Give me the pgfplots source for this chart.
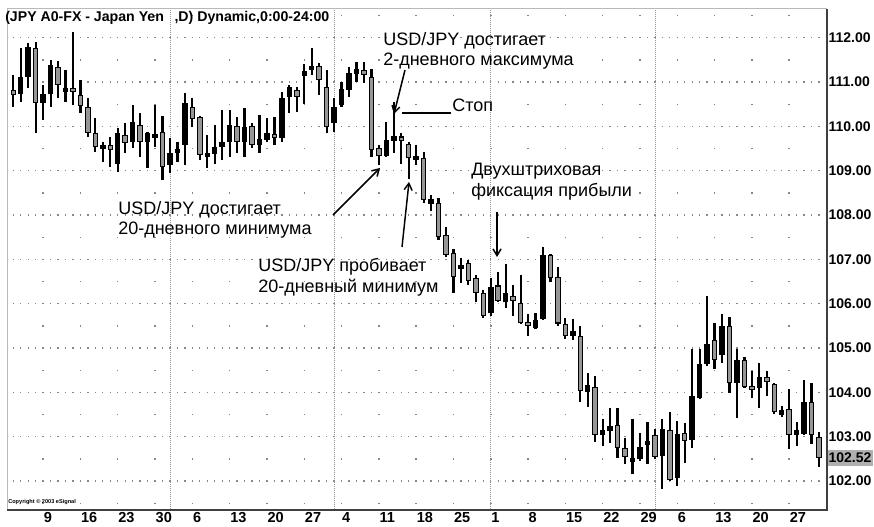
\documentclass[border=0pt]{standalone}
\usepackage{pgfplots}
\pgfplotsset{compat=1.18}
\usepackage{pgfplotstable}
\usepackage{fontspec}
\setmainfont{Liberation Sans}
\usetikzlibrary{arrows.meta}
\definecolor{bodygray}{RGB}{150,150,150}
\definecolor{griddot}{RGB}{135,135,135}

\pgfplotstableread{
i O H L C
1 110.82 111.15 110.43 110.70
2 110.73 111.76 110.55 111.11
3 111.11 111.87 110.86 111.79
4 111.76 111.90 109.84 110.52
5 110.52 110.93 110.14 110.72
6 110.73 111.49 110.43 111.38
7 111.33 111.47 110.63 110.93
8 110.80 111.27 110.55 110.84
9 110.86 112.12 110.47 110.76
10 110.70 111.04 110.29 110.45
11 110.43 110.63 109.75 109.84
12 109.84 110.18 109.41 109.53
13 109.50 109.64 109.19 109.57
14 109.57 109.75 109.08 109.46
15 109.16 109.95 108.96 109.84
16 109.80 110.07 109.39 109.62
17 109.64 110.47 109.50 110.09
18 110.02 110.29 109.30 109.64
19 109.65 109.86 109.05 109.84
20 109.77 110.48 109.53 109.80
21 109.86 110.23 108.78 109.07
22 109.12 109.73 108.94 109.39
23 109.39 109.64 109.19 109.48
24 109.57 110.75 109.12 110.52
25 110.43 110.64 109.98 110.16
26 110.20 110.23 109.23 109.35
27 109.33 109.80 109.05 109.37
28 109.37 110.02 109.16 109.53
29 109.53 110.36 109.23 109.64
30 109.64 110.36 109.30 110.02
31 110.00 110.20 109.39 109.64
32 109.64 110.41 109.30 109.98
33 110.00 110.07 109.50 109.57
34 109.57 110.25 109.39 109.71
35 109.68 110.18 109.64 109.84
36 109.80 110.20 109.57 109.75
37 109.73 110.77 109.64 110.63
38 110.66 110.93 110.29 110.88
39 110.82 110.88 110.32 110.66
40 111.15 111.41 110.51 111.22
41 111.28 111.76 111.15 111.34
42 111.35 111.42 110.70 111.04
43 110.88 111.27 109.84 109.98
44 110.07 110.63 109.86 110.43
45 110.48 111.00 110.43 110.84
46 110.82 111.34 110.66 111.20
47 111.22 111.45 111.00 111.25
48 111.22 111.45 110.98 111.20
49 111.11 111.29 109.30 109.46
50 109.50 109.57 109.12 109.32
51 109.32 110.09 109.30 109.68
52 109.66 110.55 109.39 109.77
53 109.77 109.84 109.16 109.66
54 109.61 109.64 108.82 109.28
55 109.25 109.57 109.12 109.32
56 109.28 109.41 108.26 108.33
57 108.28 108.44 108.10 108.33
58 108.26 108.37 107.43 107.50
59 107.54 107.72 107.05 107.09
60 107.15 107.24 106.23 106.59
61 106.78 107.02 106.46 106.86
62 106.91 106.98 106.41 106.52
63 106.57 106.64 106.03 106.23
64 106.23 106.30 105.68 105.73
65 105.78 106.57 105.73 106.37
66 106.41 106.71 106.03 106.05
67 106.03 106.89 105.91 106.23
68 106.18 106.41 105.73 106.05
69 106.02 106.64 105.55 105.57
70 105.57 105.77 105.28 105.50
71 105.45 105.80 105.43 105.64
72 105.66 107.27 105.64 107.09
73 107.09 107.13 106.48 106.57
74 106.59 106.82 105.50 105.55
75 105.55 105.68 105.21 105.28
76 105.30 105.66 105.17 105.35
77 105.28 105.50 103.78 104.04
78 104.00 104.43 103.66 104.16
79 104.13 104.36 102.88 103.03
80 103.07 103.40 102.79 103.12
81 103.12 103.65 102.86 103.25
82 103.27 103.65 102.52 102.75
83 102.75 102.98 102.39 102.55
84 102.43 103.40 102.16 102.52
85 102.50 103.09 102.45 102.77
86 102.84 103.32 102.39 102.88
87 103.04 103.18 102.50 102.55
88 102.57 103.40 101.82 103.18
89 103.15 103.56 102.00 102.02
90 102.07 103.36 101.89 103.07
91 103.09 103.31 102.41 102.91
92 102.93 104.98 102.75 103.91
93 103.88 104.98 103.86 104.63
94 104.63 106.18 104.60 105.10
95 105.18 105.57 104.53 104.72
96 104.84 105.77 104.65 105.50
97 105.50 105.70 103.99 104.20
98 104.22 104.98 103.43 104.72
99 104.74 104.79 104.09 104.13
100 104.13 104.48 103.88 104.07
101 104.09 104.66 103.65 104.34
102 104.34 104.48 103.92 104.24
103 104.18 104.22 103.52 103.55
104 103.50 103.70 103.45 103.60
105 103.63 104.07 102.72 103.03
106 103.07 103.32 102.79 103.11
107 103.07 104.27 103.04 103.79
108 103.79 104.20 102.84 103.04
109 103.00 103.11 102.32 102.52
}\candles

\begin{document}
\begin{tikzpicture}
\useasboundingbox (0,0) rectangle (655.5pt,395.25pt);
\begin{axis}[
  at={(5.25pt,12.75pt)}, anchor=south west,
  scale only axis, width=615pt, height=375.75pt,
  xmin=0.155, xmax=110.07, ymin=101.346, ymax=112.643,
  axis line style={draw=none},
  major tick length=0pt,
  xtick={5,10,...,105},
  xticklabels={9,16,23,30,6,13,20,27,4,11,18,25,1,8,15,22,29,6,13,20,27},
  xticklabel style={font=\bfseries\fontsize{10.9}{12}\selectfont, anchor=north west, inner xsep=0.3pt, inner ysep=1.5pt},
  ytick={102,103,...,112},
  yticklabels={102.00,103.00,104.00,105.00,106.00,107.00,108.00,109.00,110.00,111.00,112.00},
  yticklabel pos=right,
  yticklabel style={font=\bfseries\fontsize{10.5}{12}\selectfont, anchor=west, inner xsep=1pt},
  xmajorgrids, ymajorgrids,
  major x grid style={griddot, line width=1.1pt, dash pattern=on 1.1pt off 32.16pt, dash phase=28.9pt},
  major y grid style={griddot, line width=1.0pt, dash pattern=on 1.0pt off 4.595pt, dash phase=1.37pt},
  extra x ticks={22,44,65,87}, extra x tick labels={},
  extra x tick style={grid=major, major x grid style={gray!85, line width=0.6pt, dash pattern=on 0.75pt off 0.75pt}},
  extra y ticks={102.52}, extra y tick labels={102.52},
  extra y tick style={grid=none, yticklabel style={fill=bodygray!75, inner ysep=2pt}},
]
% wicks
\addplot[draw=none, mark=none, error bars/.cd, y dir=both, y explicit, error mark=none,
  error bar style={draw=black, line width=1.65pt, line cap=butt}]
  table[x=i, y expr={(\thisrow{H}+\thisrow{L})/2}, y error expr={(\thisrow{H}-\thisrow{L})/2}] {\candles};
% bodies (outline / up bodies)
\addplot[draw=none, mark=none, error bars/.cd, y dir=both, y explicit, error mark=none,
  error bar style={draw=black, line width=4.1pt, line cap=butt}]
  table[x=i, y expr={(\thisrow{O}+\thisrow{C})/2}, y error expr={max(abs(\thisrow{O}-\thisrow{C})/2,0.05)}] {\candles};
% down bodies: gray inside
\addplot[draw=none, mark=none, error bars/.cd, y dir=both, y explicit, error mark=none,
  error bar style={draw=bodygray, line width=2.6pt, line cap=butt}]
  table[x=i, y expr={(\thisrow{O}+\thisrow{C})/2}, y error expr={ifthenelse(\thisrow{C}<\thisrow{O}, max(abs(\thisrow{O}-\thisrow{C})/2,0.05)-0.024, 0)}] {\candles};
\end{axis}
\draw[gray!55, line width=0.75pt] (current axis.south west) -- (current axis.north west) -- (current axis.north east);
\draw[black!75, line width=1.1pt] (current axis.north east) -- (current axis.south east) -- (current axis.south west);

\begin{scope}[x=0.75pt, y=-0.75pt, yshift=395.25pt]
  \node[anchor=west, inner sep=0pt, font=\bfseries\fontsize{10.6}{12}\selectfont] at (5,17.5) {(JPY A0-FX - Japan Yen\hspace{8pt},D) Dynamic,0:00-24:00};
  \node[anchor=west, inner sep=0pt, font=\bfseries\fontsize{4.2}{5}\selectfont] at (8,502) {Copyright © 2003 eSignal};
  \begin{scope}[font=\fontsize{13.5}{15}\selectfont, every node/.style={anchor=base west, inner sep=0pt}]
    \node at (383,46) {USD/JPY достигает};
    \node at (383,66) {2-дневного максимума};
    \node at (118,215) {USD/JPY достигает};
    \node at (118,235) {20-дневного минимума};
    \node at (258,272) {USD/JPY пробивает};
    \node at (258,293) {20-дневный минимум};
    \node at (471,176) {Двухштриховая};
    \node at (471,197) {фиксация прибыли};
    \node at (452,112) {Стоп};
  \end{scope}
  \begin{scope}[line width=1.1pt, -{Straight Barb[length=5pt,width=6pt]}]
    \draw (405,70) -- (394,114);
    \draw (333,215) -- (380,168);
    \draw (402,247) -- (409,182);
    \draw (497,212) -- (497,257);
  \end{scope}
  \draw[line width=1.6pt] (402,113) -- (451,113);
\end{scope}
\end{tikzpicture}
\end{document}
